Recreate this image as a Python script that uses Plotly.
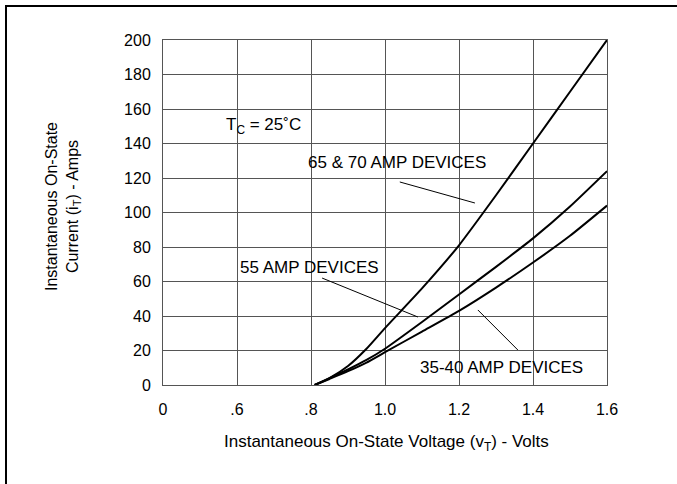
import plotly.graph_objects as go

# Data
volts = [0.81, 0.85, 0.9, 0.95, 1.0, 1.1, 1.2, 1.3, 1.4, 1.5, 1.6]
amps_65_70 = [0, 4, 11, 21, 33, 56, 81, 110, 140, 170, 200]
amps_55 = [0, 4, 9, 14.5, 21, 36.5, 52.5, 68.5, 85, 103.5, 124]
amps_35_40 = [0, 3.5, 8, 13, 19, 31, 43, 56.5, 71, 86.5, 104]

x_tickvals = [0.4, 0.6, 0.8, 1.0, 1.2, 1.4, 1.6]
x_ticktext = ["0", ".6", ".8", "1.0", "1.2", "1.4", "1.6"]
y_tickvals = list(range(0, 201, 20))

FONT = "Liberation Sans, Arial, Helvetica, sans-serif"

fig = go.Figure()
for name, ys in [("65 & 70 AMP DEVICES", amps_65_70),
                 ("55 AMP DEVICES", amps_55),
                 ("35-40 AMP DEVICES", amps_35_40)]:
    fig.add_trace(go.Scatter(x=volts, y=ys, mode="lines", name=name,
                             line=dict(color="black", width=2, shape="spline", smoothing=0.5),
                             showlegend=False))

annos = [
    dict(x=1.032, y=128.7, text="65 & 70 AMP DEVICES", leader=(1.040, 117.7, 1.243, 105.5)),
    dict(x=0.797, y=68.4, text="55 AMP DEVICES", leader=(0.830, 62.0, 1.089, 39.4)),
    dict(x=1.316, y=10.4, text="35-40 AMP DEVICES", leader=(1.251, 43.5, 1.359, 20.3)),
]
for a in annos:
    fig.add_annotation(x=a["x"], y=a["y"], xref="x", yref="y", text=a["text"],
                       showarrow=False, font=dict(family=FONT, size=17, color="black"),
                       xanchor="center", yanchor="middle")
    x0, y0, x1, y1 = a["leader"]
    fig.add_shape(type="line", xref="x", yref="y", x0=x0, y0=y0, x1=x1, y1=y1,
                  line=dict(color="black", width=1))

fig.add_annotation(x=0.565, y=150, xref="x", yref="y",
                   text="T<sub>C</sub> = 25˚C", showarrow=False,
                   font=dict(family=FONT, size=17, color="black"),
                   xanchor="left", yanchor="middle")

# axis titles as annotations
fig.add_annotation(x=(63 - 163) / 444, y=(385 - 207) / 345, xref="paper", yref="paper",
                   text="Instantaneous On-State<br>Current (i<sub>T</sub>) - Amps",
                   textangle=-90, showarrow=False,
                   font=dict(family=FONT, size=16, color="black"),
                   xanchor="center", yanchor="middle")
fig.add_annotation(x=(386 - 163) / 444, y=(385 - 443) / 345, xref="paper", yref="paper",
                   text="Instantaneous On-State Voltage (v<sub>T</sub>) - Volts",
                   showarrow=False,
                   font=dict(family=FONT, size=17, color="black"),
                   xanchor="center", yanchor="middle")

# outer frame
fig.add_shape(type="rect", xref="paper", yref="paper",
              x0=(6 - 163) / 444, y0=-0.6, x1=1.5, y1=(385 - 6) / 345,
              line=dict(color="black", width=2))

fig.update_xaxes(range=[0.4, 1.6], tickvals=x_tickvals, ticktext=x_ticktext,
                 showgrid=True, gridcolor="#555", gridwidth=1, zeroline=False,
                 showline=True, linecolor="#555", linewidth=1, mirror=True,
                 ticks="", ticklabelstandoff=10,
                 tickfont=dict(family=FONT, size=16, color="black"))
fig.update_yaxes(range=[0, 200], tickvals=y_tickvals,
                 showgrid=True, gridcolor="#555", gridwidth=1, zeroline=False,
                 showline=True, linecolor="#555", linewidth=1, mirror=True,
                 ticks="", ticklabelstandoff=8,
                 tickfont=dict(family=FONT, size=16, color="black"))

fig.update_layout(width=677, height=484,
                  margin=dict(l=163, r=70, t=40, b=99),
                  plot_bgcolor="white", paper_bgcolor="white",
                  font=dict(family=FONT, color="black"))

fig.write_html("out.html", config={"displayModeBar": False},
               post_script="document.body.style.margin='0';document.body.style.overflow='hidden';")
